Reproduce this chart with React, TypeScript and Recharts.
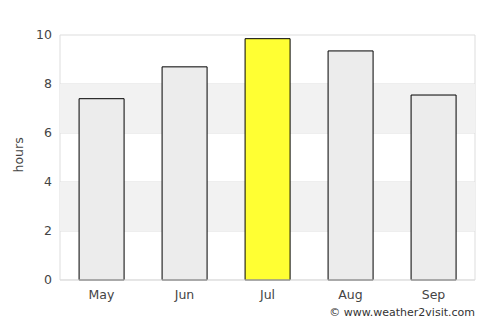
import React from "react";
import { BarChart, Bar, XAxis, YAxis, CartesianGrid, ReferenceArea, Cell } from "recharts";

const months = ["May", "Jun", "Jul", "Aug", "Sep"];
const hours = [7.4, 8.7, 9.85, 9.35, 7.55];
const yTicks = [0, 2, 4, 6, 8, 10];
const highlightMonth = "Jul";

const data = months.map((m, i) => ({ month: m, hours: hours[i] }));

const FONT = "'DejaVu Sans', sans-serif";

export default function App() {
  return (
    <div style={{ position: "absolute", left: 0, top: 0, width: 500, height: 325, background: "#fff", fontFamily: FONT }}>
      <BarChart
        width={500}
        height={325}
        data={data}
        margin={{ top: 35, right: 25, bottom: 15, left: 20 }}
        barCategoryGap="23%"
      >
        <ReferenceArea y1={6} y2={8} fill="#f2f2f2" fillOpacity={1} stroke="none" ifOverflow="visible" />
        <ReferenceArea y1={2} y2={4} fill="#f2f2f2" fillOpacity={1} stroke="none" ifOverflow="visible" />
        <CartesianGrid
          stroke="#dddddd"
          verticalCoordinatesGenerator={({ offset }: any) => [offset.left, offset.left + offset.width]}
        />
        <XAxis
          dataKey="month"
          height={30}
          tickLine={false}
          axisLine={{ stroke: "#dddddd" }}
          tickMargin={4}
          tick={{ fill: "#444", fontSize: 12.5, fontFamily: FONT }}
        />
        <YAxis
          width={40}
          domain={[0, 10]}
          ticks={yTicks}
          tickLine={false}
          axisLine={false}
          tick={{ fill: "#444", fontSize: 12.5, fontFamily: FONT }}
          label={{ value: "hours", angle: -90, position: "insideLeft", offset: -1, fill: "#444", fontSize: 12.5, fontFamily: FONT, dy: 15 }}
        />
        <Bar dataKey="hours" stroke="#000" strokeWidth={1} isAnimationActive={false}>
          {data.map((d) => (
            <Cell key={d.month} fill={d.month === highlightMonth ? "#ffff33" : "#ececec"} />
          ))}
        </Bar>
      </BarChart>
      <div style={{ position: "absolute", right: 25, top: 306, fontSize: 11, color: "#333", fontFamily: FONT, whiteSpace: "nowrap" }}>
        © www.weather2visit.com
      </div>
    </div>
  );
}
